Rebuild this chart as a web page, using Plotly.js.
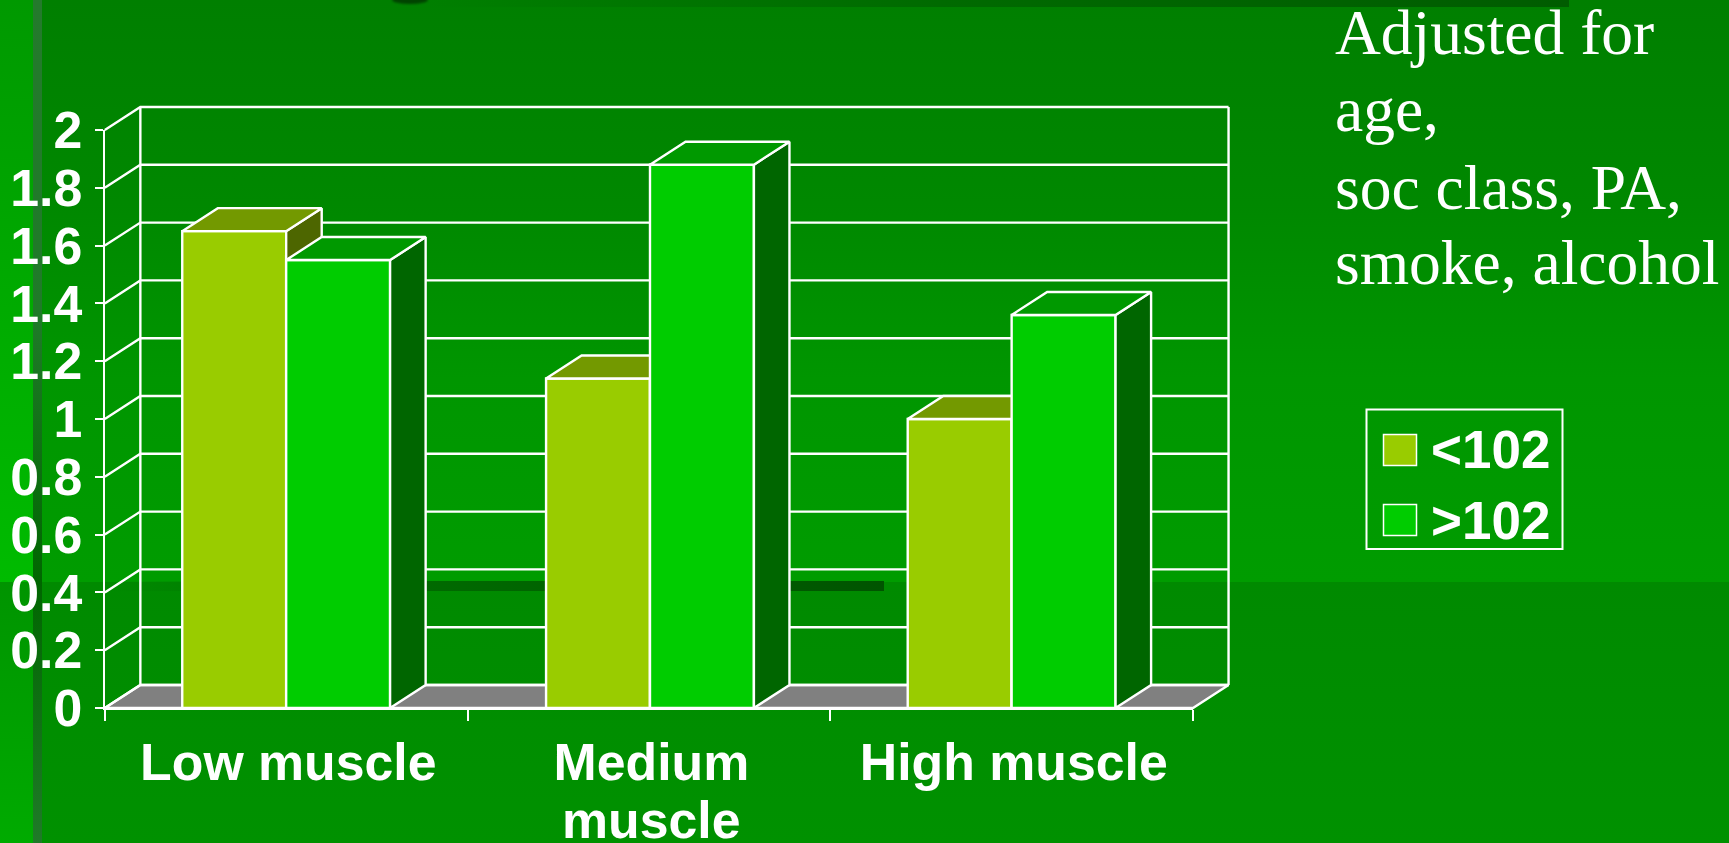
<!DOCTYPE html>
<html>
<head>
<meta charset="utf-8">
<script src="https://cdn.plot.ly/plotly-3.0.1.min.js"></script>
<style>
  html, body { margin: 0; padding: 0; width: 1729px; height: 843px; overflow: hidden; background: #008800; }
  .band { position: absolute; }
  #upper { left: 0; top: 0; width: 1729px; height: 582px; background: linear-gradient(to bottom, #007f00 0%, #008800 35%, #009600 65%, #009c00 100%); }
  #lower { left: 0; top: 582px; width: 1729px; height: 261px; background: linear-gradient(to bottom, #008a00, #009100); }
  #sideUpper { left: 0; top: 0; width: 33px; height: 582px; background: linear-gradient(to bottom, #009900, #00bb00); }
  #sideLower { left: 0; top: 582px; width: 33px; height: 261px; background: linear-gradient(to bottom, #009400, #00ab00); }
  #stripeUpper { left: 33px; top: 0; width: 9px; height: 582px; background: linear-gradient(to bottom, #247a2c 0%, #1f7a28 55%, #006600 100%); }
  #stripeLower { left: 33px; top: 582px; width: 9px; height: 261px; background: linear-gradient(to bottom, #006600, #1f7a28); }
  #ruleMid { left: 42px; top: 581px; width: 842px; height: 10px; background: linear-gradient(to right, rgba(0,90,0,0) 8%, #006a00 45%, #005400 100%); }
  #ruleTop { left: 425px; top: 0; width: 1144px; height: 7px; background: linear-gradient(to right, rgba(0,90,0,0) 0%, #006a00 45%, #005c00 100%); }
  #blob { left: 392px; top: -4px; width: 36px; height: 8px; border-radius: 50%; background: #004400; filter: blur(1px); }
  #chart { position: absolute; left: 0; top: 0; width: 1729px; height: 843px; }
</style>
</head>
<body>
<div class="band" id="upper"></div>
<div class="band" id="lower"></div>
<div class="band" id="ruleMid"></div>
<div class="band" id="ruleTop"></div>
<div class="band" id="blob"></div>
<div class="band" id="sideUpper"></div>
<div class="band" id="sideLower"></div>
<div class="band" id="stripeUpper"></div>
<div class="band" id="stripeLower"></div>
<div id="chart"></div>
<script>
// Adjusted values per muscle group, split by waist size
const categories = ["Low muscle", "Medium", "High muscle"];
const labelPositions = [0.506, 1.507, 2.506];
const barCentres = [0.5, 1.503, 2.5];
const under102 = [1.65, 1.14, 1.00];
const over102 = [1.55, 1.88, 1.36];
const valueTicks = [0, 0.2, 0.4, 0.6, 0.8, 1, 1.2, 1.4, 1.6, 1.8, 2];
const valueLabels = ["0", "0.2", "0.4", "0.6", "0.8", "1", "1.2", "1.4", "1.6", "1.8", "2"];
const categoryEdges = [0, 1, 2, 3];
const noteLines = ["Adjusted for", "age,", "soc class, PA,", "smoke, alcohol"];
const seriesNames = ["&lt;102", "&gt;102"];

const WHITE = "#ffffff";
const under = { front: "#99CC00", top: "#739900", side: "#4D6600" };
const over = { front: "#00CC00", top: "#009900", side: "#006600" };
const FLOOR = "#808080";

// Page geometry of the front plane of the chart
const W = 1729, H = 843;
const frontLeft = 104.8, frontRight = 1193, frontTop = 130, frontBottom = 708;
const xRange = [0, 3];
const yRange = [0, 2];
const pxPerX = (frontRight - frontLeft) / (xRange[1] - xRange[0]);
const pxPerY = (frontBottom - frontTop) / (yRange[1] - yRange[0]);

// Extrusion depth and column width, in axis units
const depthX = 0.098;
const depthY = 0.0796;
const barWidth = 0.2865;

// The drawing layers get a slightly larger window than the front axes so the
// receding back wall and the edge strokes stay inside their clip area.
const slack = 3;
const wallLeft = frontLeft - slack, wallRight = frontRight + depthX * pxPerX + slack;
const wallTop = frontTop - depthY * pxPerY - slack, wallBottom = frontBottom + slack;
const wallXRange = [-slack / pxPerX, xRange[1] + depthX + slack / pxPerX];
const wallYRange = [-slack / pxPerY, yRange[1] + depthY + slack / pxPerY];

const edge = { color: WHITE, width: 2.4 };

// One polygon per column, separated by nulls so a single trace can fill them all
function polygons(cornersOf, n) {
  const xs = [], ys = [];
  for (let i = 0; i < n; i++) {
    for (const [px, py] of cornersOf(i)) { xs.push(px); ys.push(py); }
    xs.push(null); ys.push(null);
  }
  return { x: xs, y: ys };
}

function columnLayer(values, colors, name, lead, xa, ya) {
  const left = i => barCentres[i] + lead;
  const right = i => left(i) + barWidth;
  const topFace = polygons(i => [
    [left(i), values[i]], [right(i), values[i]],
    [right(i) + depthX, values[i] + depthY], [left(i) + depthX, values[i] + depthY],
    [left(i), values[i]]
  ], values.length);
  const sideFace = polygons(i => [
    [right(i), 0], [right(i) + depthX, depthY],
    [right(i) + depthX, values[i] + depthY], [right(i), values[i]],
    [right(i), 0]
  ], values.length);
  const face = (poly, fill) => ({
    type: "scatter", mode: "lines", x: poly.x, y: poly.y, xaxis: xa, yaxis: ya,
    fill: "toself", fillcolor: fill, line: edge, hoverinfo: "skip", showlegend: false
  });
  return [
    { type: "bar", name: name, x: barCentres, y: values, width: barWidth, offset: lead,
      xaxis: xa, yaxis: ya, marker: { color: colors.front, line: edge }, showlegend: false },
    face(sideFace, colors.side),
    face(topFace, colors.top)
  ];
}

// Back wall: gridlines with their receding connectors, wall edges and grey floor
const gridX = [], gridY = [];
for (const t of valueTicks) {
  gridX.push(0, depthX, xRange[1] + depthX, null);
  gridY.push(t, t + depthY, t + depthY, null);
}
for (const wx of [depthX, xRange[1] + depthX]) {
  gridX.push(wx, wx, null);
  gridY.push(depthY, yRange[1] + depthY, null);
}
const backWall = {
  type: "scatter", mode: "lines", x: gridX, y: gridY, xaxis: "x2", yaxis: "y2",
  line: edge, hoverinfo: "skip", showlegend: false
};
const floor = {
  type: "scatter", mode: "lines", xaxis: "x2", yaxis: "y2",
  x: [0, xRange[1], xRange[1] + depthX, depthX, 0],
  y: [0, 0, depthY, depthY, 0],
  fill: "toself", fillcolor: FLOOR, line: edge, hoverinfo: "skip", showlegend: false
};

const sansBold = { family: "Liberation Sans, Arial, sans-serif", size: 51.8, color: WHITE, weight: 700 };
const legendFont = { family: "Liberation Sans, Arial, sans-serif", size: 53, color: WHITE, weight: 700 };
const serif = { family: "Liberation Serif, Times New Roman, serif", size: 63.5, color: WHITE };

// All annotation and legend positions below are given as page pixels
const px = v => v / W;
const py = v => 1 - v / H;

const noteCentres = [33, 109, 188, 262];
const notes = noteLines.map((line, i) => ({
  xref: "paper", yref: "paper", text: line, showarrow: false, font: serif,
  xanchor: "left", yanchor: "middle", x: px(1333), y: py(noteCentres[i])
}));

const legendRowsY = [450, 520];
const legendText = seriesNames.map((s, i) => ({
  xref: "paper", yref: "paper", text: s, showarrow: false, font: legendFont,
  xanchor: "left", yanchor: "middle", x: px(1429), y: py(legendRowsY[i])
}));
const legendShapes = [
  { type: "rect", xref: "paper", yref: "paper", line: { color: WHITE, width: 2 },
    x0: px(1366.5), x1: px(1562.5), y0: py(409.5), y1: py(549) }
].concat([under, over].map((c, i) => ({
  type: "rect", xref: "paper", yref: "paper", fillcolor: c.front, line: { color: WHITE, width: 1.5 },
  x0: px(1383.5), x1: px(1416.5), y0: py(legendRowsY[i] + 15.5), y1: py(legendRowsY[i] - 15.5)
})));

// Plotly's line spacing is too loose here, so the label's second line sits on its own
const secondLine = {
  xref: "x", yref: "paper", x: labelPositions[1], y: py(820),
  text: "muscle", showarrow: false, font: sansBold, xanchor: "center", yanchor: "middle"
};

const hidden = extra => Object.assign({ visible: false, fixedrange: true }, extra);

const layout = {
  width: W, height: H,
  margin: { l: 0, r: 0, t: 0, b: 0, pad: 0 },
  paper_bgcolor: "rgba(0,0,0,0)", plot_bgcolor: "rgba(0,0,0,0)",
  showlegend: false, hovermode: false,
  xaxis: {
    domain: [px(frontLeft), px(frontRight)], anchor: "y",
    range: xRange, tickmode: "array", tickvals: labelPositions, ticktext: categories,
    ticks: "", showgrid: false, zeroline: false, showline: true, linecolor: WHITE, linewidth: 2.4,
    tickfont: sansBold, ticklabelstandoff: 8, tickangle: 0, fixedrange: true,
    minor: { tickmode: "array", tickvals: categoryEdges, ticks: "outside", ticklen: 11, tickwidth: 2, tickcolor: WHITE, showgrid: false }
  },
  yaxis: {
    domain: [py(frontBottom), py(frontTop)], anchor: "x",
    range: yRange, tickmode: "array", tickvals: valueTicks, ticktext: valueLabels,
    ticks: "outside", ticklen: 8, tickwidth: 2, tickcolor: WHITE,
    showgrid: false, zeroline: false, showline: true, linecolor: WHITE, linewidth: 2.4,
    tickfont: sansBold, ticklabelstandoff: 2, ticklabelshift: 1.5, fixedrange: true
  },
  xaxis2: hidden({ domain: [px(wallLeft), px(wallRight)], anchor: "y2", range: wallXRange }),
  yaxis2: hidden({ domain: [py(wallBottom), py(wallTop)], anchor: "x2", range: wallYRange }),
  xaxis3: hidden({ overlaying: "x2", range: wallXRange }),
  yaxis3: hidden({ overlaying: "y2", range: wallYRange }),
  xaxis4: hidden({ overlaying: "x2", range: wallXRange }),
  yaxis4: hidden({ overlaying: "y2", range: wallYRange }),
  shapes: legendShapes,
  annotations: notes.concat(legendText, [secondLine])
};

const traces = [floor, backWall]
  .concat(columnLayer(under102, under, "<102", -barWidth, "x3", "y3"))
  .concat(columnLayer(over102, over, ">102", 0, "x4", "y4"));

Plotly.newPlot("chart", traces, layout, { displayModeBar: false, responsive: false });
</script>
</body>
</html>
